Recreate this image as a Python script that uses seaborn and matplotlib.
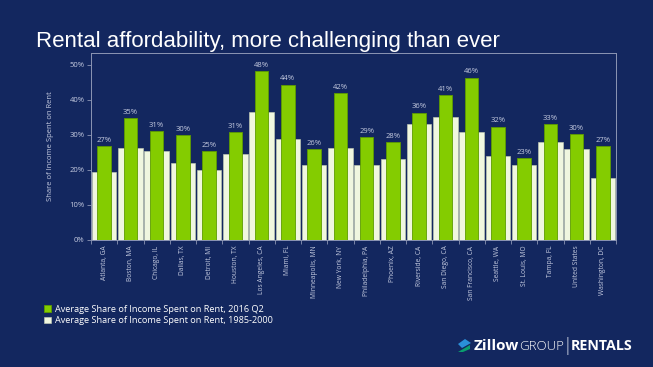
import matplotlib
matplotlib.use("Agg")
import matplotlib.pyplot as plt
import matplotlib.patches as mpatches
import seaborn as sns
import pandas as pd

cities = ["Atlanta, GA", "Boston, MA", "Chicago, IL", "Dallas, TX", "Detroit, MI",
          "Houston, TX", "Los Angeles, CA", "Miami, FL", "Minneapolis, MN", "New York, NY",
          "Philadelphia, PA", "Phoenix, AZ", "Riverside, CA", "San Diego, CA",
          "San Francisco, CA", "Seattle, WA", "St. Louis, MO", "Tampa, FL",
          "United States", "Washington, DC"]
share_2016 = [26.9, 34.9, 31.0, 30.1, 25.4, 30.9, 48.2, 44.4, 26.1, 42.0,
              29.4, 28.0, 36.4, 41.4, 46.4, 32.4, 23.4, 33.1, 30.2, 26.9]
share_hist = [19.5, 26.4, 25.3, 22.1, 20.1, 24.5, 36.6, 28.7, 21.5, 26.4,
              21.5, 23.0, 33.0, 35.0, 30.9, 24.0, 21.3, 27.9, 26.1, 17.8]
yticks = [0, 10, 20, 30, 40, 50]
label_2016 = "Average Share of Income Spent on Rent, 2016 Q2"
label_hist = "Average Share of Income Spent on Rent, 1985-2000"

BG = "#13275F"
GREEN = "#84CC00"
CREAM = "#F0F7DF"
TXT = "#C5CBE0"
SPINE = "#8C96B4"

sns.set_theme(style="white")
plt.rcParams['font.family'] = ['Open Sans', 'DejaVu Sans']

fig = plt.figure(figsize=(6.53, 3.67), dpi=100, facecolor=BG)
ax = fig.add_axes([91/653, 1-240/367, 525/653, 187/367])
ax.set_facecolor(BG)

df = pd.DataFrame({"city": cities, "recent": share_2016, "hist": share_hist})
sns.barplot(data=df, x="city", y="hist", color=CREAM, width=0.93, saturation=1,
            edgecolor="#C9D2B8", linewidth=0.4, ax=ax, label=label_hist)
sns.barplot(data=df, x="city", y="recent", color=GREEN, width=0.52, saturation=1,
            edgecolor="#5E9C00", linewidth=0.6, ax=ax, label=label_2016)

ax.bar_label(ax.containers[1], fmt="%.0f%%", padding=1.5, color=TXT, fontsize=5.5)

ax.set_xlim(-0.5, len(cities) - 0.5)
ax.set_ylim(0, 53.4)
ax.set_yticks(yticks)
ax.set_yticklabels([f"{t}%" for t in yticks], fontsize=5.5, color=TXT)
ax.set_xticks(range(len(cities)))
ax.set_xticklabels(cities, rotation=90, fontsize=4.8, color=TXT)
ax.set_xticks([i - 0.5 for i in range(len(cities) + 1)], minor=True)
ax.tick_params(axis='x', which='major', length=0, pad=4)
ax.tick_params(axis='x', which='minor', length=3, color=SPINE, width=0.6, bottom=True)
ax.tick_params(axis='y', length=3, color=SPINE, width=0.6, left=True, pad=1.5)
ax.set_xlabel("")
ax.set_ylabel("Share of Income Spent on Rent", fontsize=5.5, color=TXT)
ax.yaxis.set_label_coords(-0.07, 0.5)
for s in ax.spines.values():
    s.set_color(SPINE)
    s.set_linewidth(0.7)
if ax.legend_:
    ax.legend_.remove()

handles = [ax.containers[1], ax.containers[0]]
leg = fig.legend(handles=handles, labels=[label_2016, label_hist], loc='upper left',
                 bbox_to_anchor=(44/653, 1-305/367), frameon=False, fontsize=6.6,
                 handlelength=0.75, handleheight=0.75, handletextpad=0.5,
                 labelspacing=0.25, borderpad=0, borderaxespad=0)
for t in leg.get_texts():
    t.set_color("white")

fig.text(36/653, 1-47/367, "Rental affordability, more challenging than ever",
         fontsize=16, color="white", family=['Liberation Sans Narrow', 'Liberation Sans'],
         va='baseline', ha='left')

# logo
fig.text(474/653, 1-346/367, "Zillow", fontsize=11, fontweight='bold', color='white',
         va='center', ha='left', family=['Open Sans', 'DejaVu Sans'])
fig.text(519/653, 1-346/367, "GROUP", fontsize=9.5, color='white', fontweight='light',
         va='center', ha='left', family=['Open Sans', 'DejaVu Sans'])
fig.text(565/653, 1-346/367, "|", fontsize=12, color='#8C96B4',
         va='center', ha='left', family=['DejaVu Sans'])
fig.text(571/653, 1-346/367, "RENTALS", fontsize=10.3, color='white', fontweight='bold',
         va='center', ha='left', family=['Open Sans', 'DejaVu Sans'])
fig.patches.append(mpatches.Polygon([[458/653, 1-352/367], [470/653, 1-345/367],
                                     [470/653, 1-349/367], [463/653, 1-352/367]],
                                    closed=True, transform=fig.transFigure,
                                    facecolor='#0A9E6E', edgecolor='none'))
fig.patches.append(mpatches.Polygon([[458/653, 1-344/367], [465/653, 1-339/367],
                                     [471/653, 1-343/367], [462/653, 1-348/367]],
                                    closed=True, transform=fig.transFigure,
                                    facecolor='#2A8FD9', edgecolor='none'))

fig.savefig("out.png", dpi=100, facecolor=BG)
